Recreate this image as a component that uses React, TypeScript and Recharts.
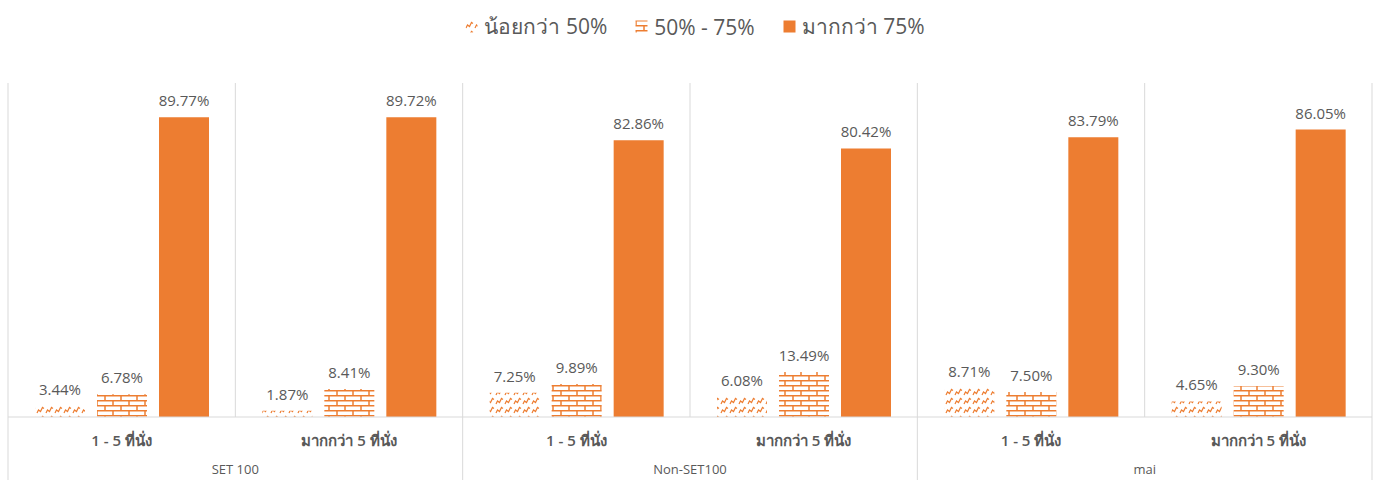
import { BarChart, Bar, XAxis, YAxis, LabelList } from "recharts";

const groups = ["SET 100", "SET 100", "Non-SET100", "Non-SET100", "mai", "mai"];
const seats = ["1 - 5 ที่นั่ง", "มากกว่า 5 ที่นั่ง", "1 - 5 ที่นั่ง", "มากกว่า 5 ที่นั่ง", "1 - 5 ที่นั่ง", "มากกว่า 5 ที่นั่ง"];
const below50 = [3.44, 1.87, 7.25, 6.08, 8.71, 4.65];
const from50to75 = [6.78, 8.41, 9.89, 13.49, 7.5, 9.3];
const above75 = [89.77, 89.72, 82.86, 80.42, 83.79, 86.05];
const seriesNames = ["น้อยกว่า 50%", "50% - 75%", "มากกว่า 75%"];

const data = seats.map((s, i) => ({
  key: `${groups[i]}|${s}|${i}`,
  group: groups[i],
  seat: s,
  a: below50[i],
  b: from50to75[i],
  c: above75[i],
}));

const W = 1378;
const H = 480;
const TOP = 83;
const AXIS_H = 63;
const PLOT_H = H - TOP - AXIS_H;
const ORANGE = "#ED7D31";
const GRID = "#d9d9d9";
const TEXT = "#595959";
const FONT = "'Open Sans', 'Noto Sans', Tahoma, sans-serif";

const pct = (v: unknown) => `${Number(v).toFixed(2)}%`;

function CatTick(props: any) {
  const { x, y, payload, index } = props;
  const half = payload?.offset ?? (W - 14) / data.length / 2;
  const row = data[index];
  const groupStart = index % 2 === 0;
  const last = index === data.length - 1;
  return (
    <g>
      <line x1={x - half} x2={x - half} y1={y - PLOT_H} y2={groupStart ? y + AXIS_H : y} stroke={GRID} />
      {last && <line x1={x + half} x2={x + half} y1={y - PLOT_H} y2={y + AXIS_H} stroke={GRID} />}
      <text x={x} y={y + 29} textAnchor="middle" fontSize={15} fontWeight={600} fill={TEXT} fontFamily={FONT}>
        {row?.seat}
      </text>
      {groupStart && (
        <text x={x + half} y={y + 57} textAnchor="middle" fontSize={13} fill={TEXT} fontFamily={FONT}>
          {row?.group}
        </text>
      )}
    </g>
  );
}

const fills = ["url(#wave)", "url(#brick)", ORANGE];

function LegendIcon({ i }: { i: number }) {
  return (
    <svg width={13} height={13} style={{ marginRight: 6 }}>
      <rect x={0.5} y={0.5} width={12} height={12} fill={fills[i]} />
    </svg>
  );
}

export default function App() {
  return (
    <div style={{ position: "relative", width: W, height: H, background: "#fff", fontFamily: FONT }}>
      <style>{"body{margin:0}"}</style>
      <div
        style={{
          position: "absolute",
          top: 10,
          left: 0,
          width: W,
          display: "flex",
          justifyContent: "center",
          gap: 28,
          fontSize: 21,
          color: TEXT,
          zIndex: 2,
          paddingLeft: 12,
          boxSizing: "border-box",
        }}
      >
        {seriesNames.map((n, i) => (
          <div key={n} style={{ display: "flex", alignItems: "center" }}>
            <LegendIcon i={i} />
            <span>{n}</span>
          </div>
        ))}
      </div>
      <BarChart
        width={W}
        height={H}
        data={data}
        margin={{ top: TOP, right: 6, bottom: 0, left: 8 }}
        barSize={50}
        barGap={12}
      >
        <defs>
          <pattern id="wave" patternUnits="userSpaceOnUse" width={9} height={9}>
            <path d="M1,8 L2.5,5 L4.5,6.5 L6.5,2.5 L8,3.5" fill="none" stroke={ORANGE} strokeWidth={1.2} />
          </pattern>
          <pattern id="brick" patternUnits="userSpaceOnUse" width={16} height={10}>
            <line x1={0} x2={16} y1={0.75} y2={0.75} stroke={ORANGE} strokeWidth={1.5} />
            <line x1={0} x2={16} y1={5.75} y2={5.75} stroke={ORANGE} strokeWidth={1.5} />
            <line x1={1} x2={1} y1={0} y2={5.5} stroke={ORANGE} strokeWidth={1.5} />
            <line x1={9} x2={9} y1={5.5} y2={10} stroke={ORANGE} strokeWidth={1.5} />
          </pattern>
        </defs>
        <XAxis
          dataKey="key"
          interval={0}
          height={AXIS_H}
          axisLine={{ stroke: GRID }}
          tickLine={false}
          tickSize={0}
          tickMargin={0}
          tick={<CatTick />}
        />
        <YAxis hide domain={[0, 100]} />
        {(["a", "b", "c"] as const).map((k, i) => (
          <Bar key={k} dataKey={k} name={seriesNames[i]} fill={fills[i]} isAnimationActive={false}>
            <LabelList dataKey={k} position="top" offset={11} formatter={pct} fill={TEXT} fontSize={15} fontFamily={FONT} />
          </Bar>
        ))}
      </BarChart>
    </div>
  );
}
